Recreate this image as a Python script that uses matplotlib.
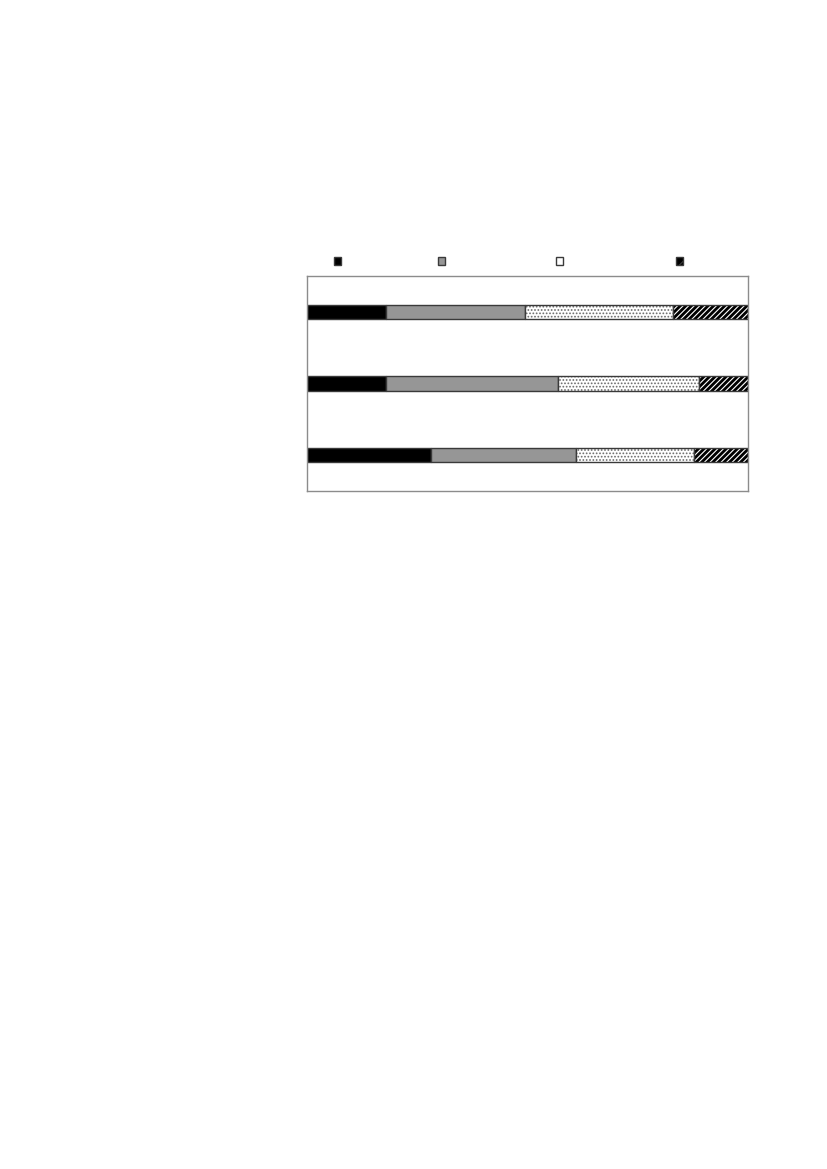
"""Stacked horizontal share bars"""

#%% Importing modules
import numpy as np
import matplotlib.pyplot as plt
from matplotlib.colors import to_rgba
from matplotlib.patches import Patch

plt.rcParams['hatch.linewidth'] = 0.8

#%% Values (percent of each row)
rows = ['Row 1', 'Row 2', 'Row 3']
part_1 = [17.9, 18.0, 28.1]
part_2 = [31.6, 38.9, 32.9]
part_3 = [33.5, 32.0, 26.8]
part_4 = [17.0, 11.1, 12.2]
series = [part_1, part_2, part_3, part_4]

#%% Styles
faces = ['black', '#969696', 'white', 'black']
hatches = [None, None, '.....', '//////']
hatch_cols = ['black', 'black', '#6a6a6a', 'white']
edge = '#3a3a3a'

#%% Figure
fig = plt.figure(figsize=(8.27, 11.69), dpi=100)
ax = fig.add_axes([0.3709, 0.5800, 0.5333, 0.1839])

y = np.arange(len(rows))
left = np.zeros(len(rows))
for vals, fc, h, hc in zip(series, faces, hatches, hatch_cols):
    bars = ax.barh(y, vals, left=left, height=0.2, color=fc, edgecolor=edge,
                   linewidth=1.0)
    if h:
        for b in bars:
            b.set_hatch(h)
            b._hatch_color = to_rgba(hc)
    left += np.array(vals)

ax.set_xlim(0, 100)
ax.set_ylim(len(rows) - 0.5, -0.5)
ax.set_xticks([])
ax.set_yticks([])
for s in ax.spines.values():
    s.set_color('#8c8c8c')
    s.set_linewidth(1.0)

#%% Legend markers (no labels in the original)
leg_x = [0.4080, 0.5341, 0.6768, 0.8222]
leg_hatch = [None, None, '.', '///']
for x, fc, h in zip(leg_x, faces, leg_hatch):
    p = Patch(facecolor=fc, edgecolor=edge, hatch=h, linewidth=1.0)
    fig.legend(handles=[p], labels=[''], loc='center',
               bbox_to_anchor=(x, 0.7759), frameon=False, handlelength=0.5,
               handleheight=0.5, handletextpad=0, borderpad=0, borderaxespad=0)

fig.savefig('out.png', dpi=100)
